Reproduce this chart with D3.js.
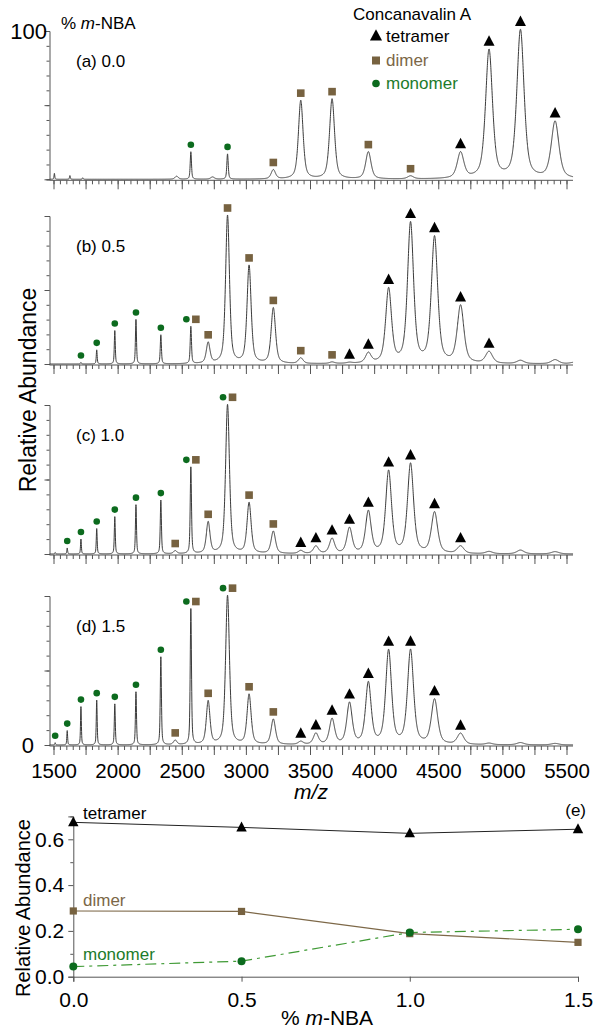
<!DOCTYPE html>
<html><head><meta charset="utf-8">
<script src="https://cdn.jsdelivr.net/npm/d3@7"></script>
<style>
html,body{margin:0;padding:0;background:#fff;}
svg{display:block;font-family:"Liberation Sans",Arial,Helvetica,sans-serif;}
</style></head>
<body><svg id="c" width="604" height="1035"></svg>
<script>
// ---------------- DATA ----------------
const panelLabels = ["(a) 0.0", "(b) 0.5", "(c) 1.0", "(d) 1.5"];
const mzTickLabels = [1500, 2000, 2500, 3000, 3500, 4000, 4500, 5000, 5500];
const legendItems = ["tetramer", "dimer", "monomer"];

// charge-state m/z values
const monomerMZ  = {17:1513, 16:1607, 15:1714, 14:1837, 13:1978, 12:2143, 11:2337, 10:2571, 9:2857};
const dimerMZ    = {21:2449, 20:2571, 19:2706, 18:2857, 17:3025, 16:3214, 15:3428, 14:3672, 13:3955, 12:4284};
const tetramerMZ = {30:3428, 29:3546, 28:3672, 27:3808, 26:3955, 25:4113, 24:4284, 23:4471, 22:4674, 21:4896, 20:5141, 19:5411};

// peaks per panel: [m/z, relative abundance %, species]
const peaksA = [
  [1507,4,"m"],[1628,2.5,"m"],[1728,1,"m"],[2460,2,"d"],[2571,18.5,"m"],[2740,1.5,"d"],[2857,17,"m"],
  [3214,6.2,"d"],[3428,53,"d"],[3672,54,"d"],[3955,18.3,"d"],[4284,2,"d"],
  [4674,17.4,"t"],[4896,86.6,"t"],[5141,100,"t"],[5411,38.4,"t"]
];
const peaksB = [
  [1714,1,"m"],[1837,9.5,"m"],[1978,22.5,"m"],[2143,30,"m"],[2337,19.6,"m"],[2571,25,"m"],
  [2706,14,"d"],[2857,100,"d"],[3025,66,"d"],[3214,37.6,"d"],[3428,3.8,"d"],[3672,1,"d"],
  [3808,0.6,"t"],[3955,6.7,"t"],[4113,50,"t"],[4284,94.4,"t"],[4471,85,"t"],[4674,38.7,"t"],[4896,7.9,"t"],
  [5141,2.2,"t"],[5411,2.8,"t"],[5560,1,"t"]
];
const peaksC = [
  [1513,1,"m"],[1607,4,"m"],[1714,10,"m"],[1837,17,"m"],[1978,25,"m"],[2143,33,"m"],[2337,36,"m"],
  [2449,2,"d"],[2571,58,"m"],[2706,21,"d"],[2857,100,"d"],[3025,34,"d"],[3214,15,"d"],
  [3428,2,"t"],[3546,5,"t"],[3672,10,"t"],[3808,17,"t"],[3955,28,"t"],[4113,55,"t"],[4284,60,"t"],[4471,27.5,"t"],[4674,5,"t"],
  [4896,1.5,"t"],[5141,2.5,"t"],[5411,1.5,"t"]
];
const peaksD = [
  [1513,1.5,"m"],[1607,9.6,"m"],[1714,25.7,"m"],[1837,30,"m"],[1978,27.5,"m"],[2143,35.6,"m"],[2337,59,"m"],
  [2449,3,"d"],[2571,91,"m"],[2706,29,"d"],[2857,100,"d"],[3025,33.5,"d"],[3214,17,"d"],
  [3428,2,"t"],[3546,7.4,"t"],[3672,17,"t"],[3808,27.5,"t"],[3955,41,"t"],[4113,62.6,"t"],[4284,63,"t"],[4471,30,"t"],[4674,7.4,"t"],
  [4896,1,"t"],[5141,1.5,"t"],[5411,1,"t"]
];

// assigned species markers per panel (charge states)
const markersA = {monomer:[10,9], dimer:[16,15,14,13,12], tetramer:[22,21,20,19]};
const markersB = {monomer:[15,14,13,12,11,10], dimer:[20,19,18,17,16,15,14], tetramer:[27,26,25,24,23,22,21]};
const markersC = {monomer:[16,15,14,13,12,11,10,9], dimer:[21,20,19,18,17,16], tetramer:[30,29,28,27,26,25,24,23,22]};
const markersD = {monomer:[17,16,15,14,13,12,11,10,9], dimer:[21,20,19,18,17,16], tetramer:[30,29,28,27,26,25,24,23,22]};

// panel (e)
const nbaPercent = [0.0, 0.5, 1.0, 1.5];
const tetramerAbund = [0.674, 0.652, 0.626, 0.644];
const dimerAbund    = [0.287, 0.285, 0.188, 0.150];
const monomerAbund  = [0.044, 0.068, 0.193, 0.207];

// ---------------- DRAW ----------------
const svg = d3.select("#c");
const FONT = '"Liberation Sans",Arial,Helvetica,sans-serif';
const colMon = "#0c6b1e", colDim = "#776240", colTet = "#000";
const colMonText = "#1d7b2b", colDimText = "#7b6748";
const lineCol = "#3a3a3a", axisCol = "#555";

const x = d3.scaleLinear().domain([1500, 5500]).range([53.5, 566.5]);
const tops = [31, 216, 405, 596];
const bases = [179.3, 364, 554, 745];
const peakSets = [peaksA, peaksB, peaksC, peaksD];
const markerSets = [markersA, markersB, markersC, markersD];
const widthFrac = {m: 0.0045, d: 0.0125, t: 0.013};
const eta = 0.55;

function spectrum(peaks, mz) {
  let s = 0;
  for (const [c, h, sp] of peaks) {
    const w = c * widthFrac[sp];
    const u = (mz - c) / w;
    const L = 1 / (1 + 4 * u * u);
    const G = Math.exp(-4 * Math.LN2 * u * u);
    s += h * (eta * L + (1 - eta) * G);
  }
  return s;
}

const mzGrid = d3.range(1470, 5552, 1);

const triPath = (cx, cy, s) => `M${cx},${cy - s * 0.62}L${cx + s * 0.55},${cy + s * 0.42}L${cx - s * 0.55},${cy + s * 0.42}Z`;

panelLabels.forEach((lab, i) => {
  const y = d3.scaleLinear().domain([0, 100]).range([bases[i], tops[i]]);
  const g = svg.append("g");
  const peaks = peakSets[i];

  // y axis
  const yAxMinor = d3.axisLeft(y).tickValues(d3.range(0, 101, 10)).tickSize(3).tickFormat("");
  const yAxMajor = d3.axisLeft(y).tickValues([0, 50, 100]).tickSize(5).tickFormat("");
  g.append("g").attr("transform", "translate(49.5,0)").call(yAxMinor);
  g.append("g").attr("transform", "translate(49.5,0)").call(yAxMajor).select(".domain").remove();

  // x axis
  const xg = g.append("g").attr("transform", `translate(0,${bases[i] + 1})`);
  xg.append("line").attr("x1", 49.5).attr("x2", 573).attr("y1", 0).attr("y2", 0);
  xg.append("g").call(d3.axisBottom(x).tickValues(d3.range(1500, 5501, 50)).tickSize(4).tickFormat("")).select(".domain").remove();
  xg.append("g").call(d3.axisBottom(x).tickValues(d3.range(1500, 5501, 250)).tickSize(9).tickFormat("")).select(".domain").remove();
  if (i === 3) {
    const lx = xg.append("g").call(d3.axisBottom(x).tickValues(mzTickLabels).tickSize(0).tickPadding(17).tickFormat(d3.format("d")));
    lx.select(".domain").remove();
    lx.selectAll("text").attr("font-size", 20.5).attr("font-family", FONT).attr("fill", "#000");
  }
  g.selectAll(".domain, .tick line").attr("stroke", axisCol).attr("stroke-width", 1);
  xg.selectAll("line").attr("stroke", axisCol);

  // spectrum line
  const line = d3.line().x(d => x(d)).y(d => y(spectrum(peaks, d)));
  g.append("path").datum(mzGrid).attr("d", line).attr("fill", "none")
    .attr("stroke", lineCol).attr("stroke-width", 1);

  // markers
  const mk = markerSets[i];
  const sharedMD = new Set(mk.dimer.map(z => dimerMZ[z]).filter(v => mk.monomer.map(z => monomerMZ[z]).includes(v)));
  mk.monomer.forEach(z => {
    const mz = monomerMZ[z];
    const dx = sharedMD.has(mz) ? -4.5 : 0;
    g.append("circle").attr("cx", x(mz) + dx).attr("cy", y(spectrum(peaks, mz)) - 7).attr("r", 3.3).attr("fill", colMon);
  });
  mk.dimer.forEach(z => {
    const mz = dimerMZ[z];
    const dx = sharedMD.has(mz) ? 5 : 0;
    const cy = y(spectrum(peaks, mz)) - 7;
    g.append("rect").attr("x", x(mz) + dx - 3.8).attr("y", cy - 3.8).attr("width", 7.6).attr("height", 7.6).attr("fill", colDim);
  });
  mk.tetramer.forEach(z => {
    const mz = tetramerMZ[z];
    const cy = y(spectrum(peaks, mz)) - 7.5;
    g.append("path").attr("d", triPath(x(mz), cy, 10)).attr("fill", colTet);
  });

  // panel label
  g.append("text").attr("x", 76).attr("y", tops[i] + 30).attr("dy", "0.35em")
    .attr("font-size", 17).attr("font-family", FONT).text(lab);
});

// y labels for spectra
svg.append("text").attr("x", 47).attr("y", 31).attr("dy", "0.35em").attr("text-anchor", "end")
  .attr("font-size", 22).text("100");
svg.append("text").attr("x", 34).attr("y", 745).attr("dy", "0.35em").attr("text-anchor", "end")
  .attr("font-size", 22).text("0");
const t1 = svg.append("text").attr("x", 61).attr("y", 23).attr("dy", "0.35em").attr("font-size", 17);
t1.append("tspan").text("% ");
t1.append("tspan").attr("font-style", "italic").text("m");
t1.append("tspan").text("-NBA");
svg.append("text").attr("transform", "translate(28,390) rotate(-90)").attr("text-anchor", "middle")
  .attr("dy", "0.35em").attr("font-size", 23).text("Relative Abundance");
svg.append("text").attr("x", 311).attr("y", 792).attr("dy", "0.35em").attr("text-anchor", "middle")
  .attr("font-size", 21).attr("font-style", "italic").text("m/z");

// legend
svg.append("text").attr("x", 353).attr("y", 14).attr("dy", "0.35em").attr("font-size", 17).text("Concanavalin A");
const legY = [36, 60.5, 83.5];
const legCols = [colTet, colDimText, colMonText];
legendItems.forEach((name, k) => {
  svg.append("text").attr("x", 386).attr("y", legY[k]).attr("dy", "0.35em").attr("font-size", 17)
    .attr("fill", legCols[k]).text(name);
});
svg.append("path").attr("d", triPath(376, legY[0], 11)).attr("fill", colTet);
svg.append("rect").attr("x", 372).attr("y", legY[1] - 4).attr("width", 8).attr("height", 8).attr("fill", colDim);
svg.append("circle").attr("cx", 376).attr("cy", legY[2]).attr("r", 3.8).attr("fill", colMon);

// ---------------- panel (e) ----------------
const xe = d3.scaleLinear().domain([0, 1.5]).range([73.3, 578]);
const ye = d3.scaleLinear().domain([0, 0.7]).range([976.7, 816.4]);
const ge = svg.append("g");
ge.append("g").attr("transform", "translate(73.3,0)")
  .call(d3.axisLeft(ye).tickValues([0, 0.2, 0.4, 0.6]).tickSize(5).tickPadding(4).tickFormat(d3.format(".1f")));
ge.append("g").attr("transform", "translate(73.3,0)")
  .call(d3.axisLeft(ye).tickValues([0.1, 0.3, 0.5, 0.7]).tickSize(3).tickFormat("")).select(".domain").remove();
ge.append("g").attr("transform", "translate(0,976.7)")
  .call(d3.axisBottom(xe).tickValues(nbaPercent).tickSize(5).tickPadding(10).tickFormat(d3.format(".1f")));
ge.selectAll("text").attr("font-size", 21).attr("font-family", FONT).attr("fill", "#000");
ge.selectAll(".domain, .tick line").attr("stroke", axisCol);

const mkLine = vals => d3.line().x((d, j) => xe(nbaPercent[j])).y(d => ye(d))(vals);
ge.append("path").attr("d", mkLine(tetramerAbund)).attr("fill", "none").attr("stroke", "#222").attr("stroke-width", 1);
ge.append("path").attr("d", mkLine(dimerAbund)).attr("fill", "none").attr("stroke", "#7d6848").attr("stroke-width", 1.2);
ge.append("path").attr("d", mkLine(monomerAbund)).attr("fill", "none").attr("stroke", "#3f9a35").attr("stroke-width", 1.2)
  .attr("stroke-dasharray", "11,5,3,5");

tetramerAbund.forEach((v, j) => ge.append("path").attr("d", triPath(xe(nbaPercent[j]), ye(v), 9.5)).attr("fill", colTet));
dimerAbund.forEach((v, j) => ge.append("rect").attr("x", xe(nbaPercent[j]) - 3.6).attr("y", ye(v) - 3.6)
  .attr("width", 7.2).attr("height", 7.2).attr("fill", colDim));
monomerAbund.forEach((v, j) => ge.append("circle").attr("cx", xe(nbaPercent[j])).attr("cy", ye(v)).attr("r", 4).attr("fill", colMon));

ge.append("text").attr("x", 83).attr("y", 813).attr("dy", "0.35em").attr("font-size", 17).text("tetramer");
ge.append("text").attr("x", 83).attr("y", 900).attr("dy", "0.35em").attr("font-size", 17).attr("fill", colDimText).text("dimer");
ge.append("text").attr("x", 83).attr("y", 954).attr("dy", "0.35em").attr("font-size", 17).attr("fill", colMonText).text("monomer");
ge.append("text").attr("x", 586).attr("y", 810).attr("dy", "0.35em").attr("text-anchor", "end").attr("font-size", 17).text("(e)");
ge.append("text").attr("transform", "translate(23,908) rotate(-90)").attr("text-anchor", "middle")
  .attr("dy", "0.35em").attr("font-size", 20).text("Relative Abundance");
const t2 = ge.append("text").attr("x", 327).attr("y", 1018).attr("dy", "0.35em").attr("text-anchor", "middle").attr("font-size", 21);
t2.append("tspan").text("% ");
t2.append("tspan").attr("font-style", "italic").text("m");
t2.append("tspan").text("-NBA");
</script></body></html>
